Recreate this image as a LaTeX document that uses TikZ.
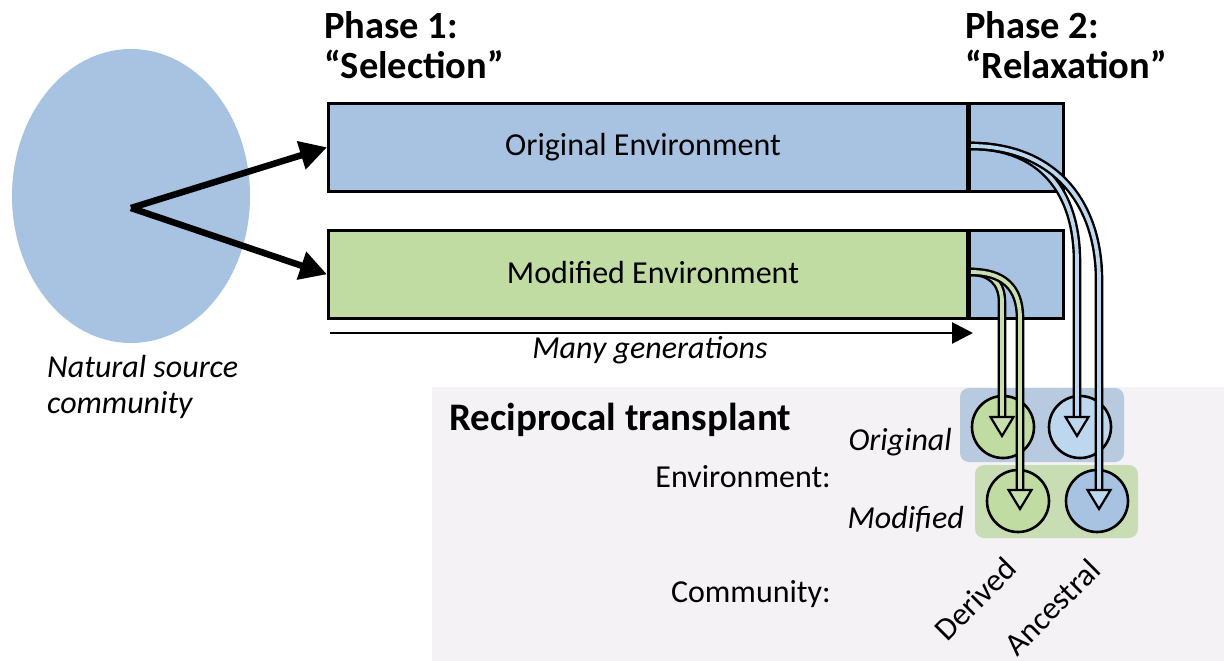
\documentclass[tikz,border=0pt]{standalone}
\usepackage{fontspec}
\setmainfont{Carlito}
\usetikzlibrary{arrows.meta,calc}

\definecolor{boxblue}{HTML}{A7C3E1}
\definecolor{boxgreen}{HTML}{C0DCA3}
\definecolor{paleblue}{HTML}{BDD7EE}
\definecolor{palegreen}{HTML}{C8E0AF}
\definecolor{panelgray}{HTML}{F4F2F4}
\definecolor{envblue}{HTML}{B8CADF}
\definecolor{envgreen}{HTML}{C9DDB5}

\newcommand{\tubehead}[3]{% tip x, tip y, fill colour
  \draw[line width=2.2pt, line join=miter, fill=#3] (#1-11.5,#2-19) -- (#1+11.5,#2-19) -- (#1,#2) -- cycle;}

\tikzset{
  envbox/.style={draw, line width=2.6pt, minimum height=88pt, inner sep=0pt, anchor=north west},
  body/.style={inner sep=0pt, font=\fontsize{32}{38}\selectfont},
  bodyit/.style={body, font=\fontsize{32}{38}\selectfont\itshape},
  head/.style={inner sep=0pt, anchor=base west, font=\fontsize{38.5}{44}\selectfont\bfseries},
  bigarrow/.style={line width=6.5pt, -{Triangle[length=27pt,width=28pt]}},
  genarrow/.style={line width=2.8pt, -{Triangle[length=21pt,width=21pt]}},
  tube/.style={line width=2.4pt, double=#1, double distance=3.8pt},
  dish/.style={circle, draw, line width=2.6pt, minimum size=62pt, inner sep=0pt},
  envpanel/.style={rounded corners=9pt}
}

\begin{document}
\begin{tikzpicture}[x=1pt, y=-1pt]
\useasboundingbox (0,0) rectangle (1224,661);

% transplant panel background
\fill[panelgray] (432,387) rectangle (1224,661);

% source community
\fill[boxblue] (131,196) ellipse [x radius=119, y radius=147];
\coordinate (src) at (131,208);

% phase headings
\node[head] (p1a) at (324,39) {Phase 1:};
\node[head] (p1b) at (324,78) {“Selection”};
\node[head] (p2a) at (965,39) {Phase 2:};
\node[head] (p2b) at (965,78) {“Relaxation”};

% selection lines
\node[envbox, fill=boxblue, minimum width=641pt] (orig) at (327,102) {};
\node[envbox, fill=boxblue, minimum width=94pt] (origR) at (968,102) {};
\node[envbox, fill=boxgreen, minimum width=641pt] (mod) at (327,229) {};
\node[envbox, fill=boxblue, minimum width=94pt] (modR) at (968,229) {};
\draw[line width=3.6pt] (origR.north west) -- (origR.south west);
\draw[line width=3.6pt] (modR.north west) -- (modR.south west);
\node[body] (origT) at (643,147) {Original Environment};
\node[body] (modT) at (653,273) {Modified Environment};

\draw[bigarrow] (src) -- (orig.west);
\draw[bigarrow] (src) -- (mod.west);

% time axis
\coordinate (g0) at (330,333);
\coordinate (g1) at (973,333);
\draw[genarrow] (g0) -- (g1);
\node[bodyit] (gen) at (650,350) {Many generations};

% source label
\node[bodyit, anchor=west] (nat1) at (47,367) {Natural source};
\node[bodyit, anchor=west] (nat2) at (47,405) {community};

% transplant labels
\node[inner sep=0pt, anchor=west, font=\fontsize{39}{44}\selectfont\bfseries] (rt) at (449,420) {Reciprocal transplant};
\node[bodyit, anchor=east] (lo) at (952,442) {Original};
\node[body, anchor=east] (le) at (831,477) {Environment:};
\node[bodyit, anchor=east] (lm) at (964,519) {Modified};
\node[body, anchor=east] (lc) at (831,594) {Community:};
\node[body, rotate=45] (ld) at (975,599) {Derived};
\node[body, rotate=45] (la) at (1052,607) {Ancestral};

% environment panels
\fill[envblue, envpanel] (960,388) rectangle (1124,462);
\fill[envgreen, envpanel] (975,465) rectangle (1138,538);

% transplanted communities
\node[dish, fill=boxgreen] (dOD) at (1003,427) {};
\node[dish, fill=paleblue] (dOA) at (1080,427) {};
\node[dish, fill=boxgreen] (dMD) at (1018,501) {};
\node[dish, fill=boxblue] (dMA) at (1097,501) {};

% transfers from the relaxation phase
\coordinate (rO) at (971,146);
\coordinate (rM) at (971,272);
\draw[tube=paleblue] (rO) .. controls (1040,146) and (1077,190) .. (1077,262) -- ($(dOA.center)+(-3,-10)$);
\draw[tube=paleblue] (rO) .. controls (1052,146) and (1099,200) .. (1099,280) -- ($(dMA.center)+(2,-10)$);
\draw[tube=palegreen] (rM) .. controls (990,272) and (1002,282) .. (1002,302) -- ($(dOD.center)+(-1,-10)$);
\draw[tube=palegreen] (rM) .. controls (1003,272) and (1020,287) .. (1020,318) -- ($(dMD.center)+(2,-10)$);
\tubehead{1077}{436}{paleblue}
\tubehead{1099}{509}{paleblue}
\tubehead{1002}{436}{palegreen}
\tubehead{1020}{509}{palegreen}
\end{tikzpicture}
\end{document}
